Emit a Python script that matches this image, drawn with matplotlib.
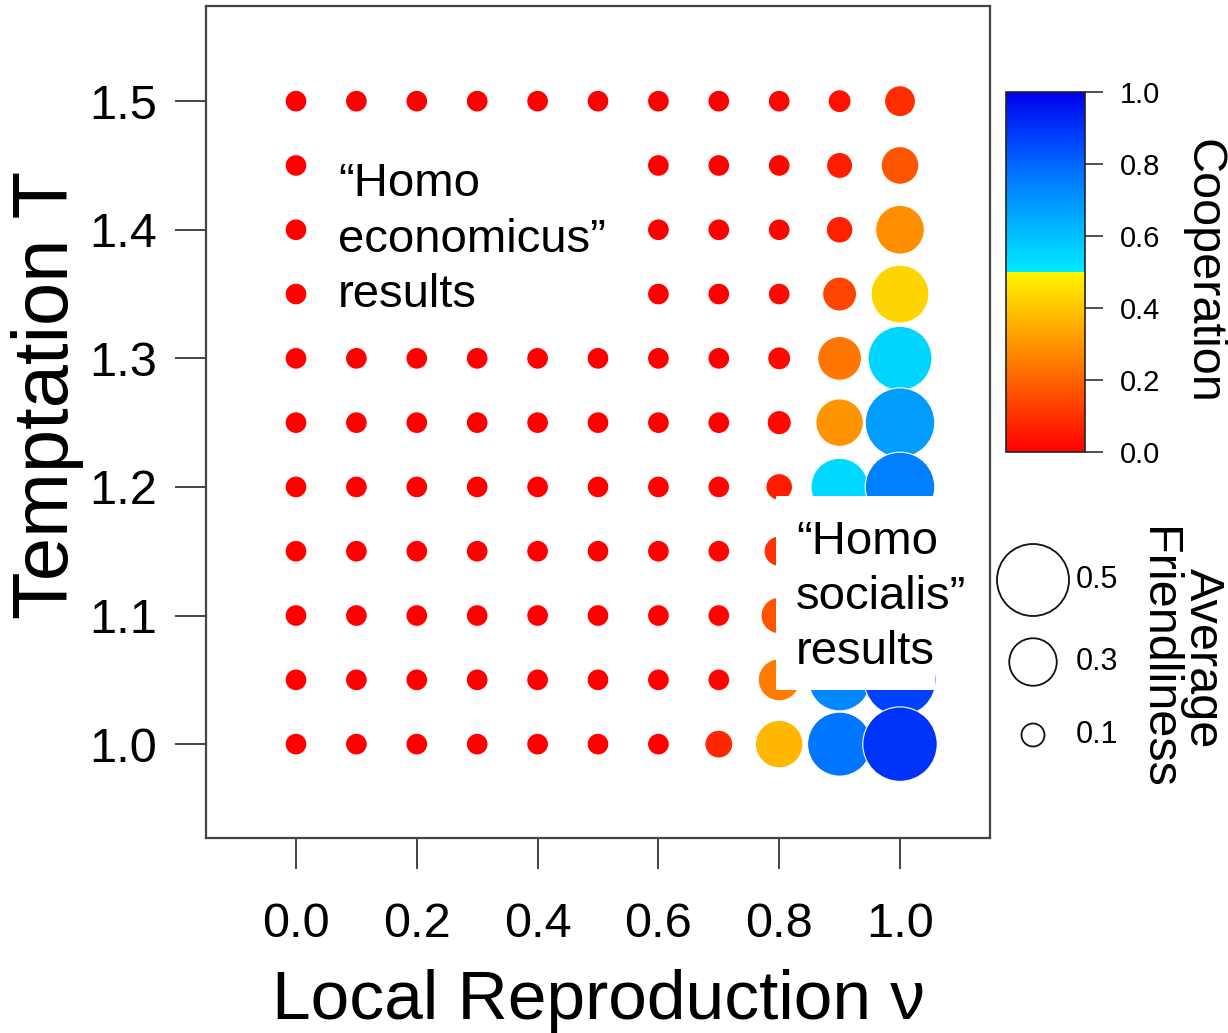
import numpy as np
import matplotlib
matplotlib.use("Agg")
import matplotlib.pyplot as plt
from matplotlib.colors import LinearSegmentedColormap, Normalize
from matplotlib.cm import ScalarMappable
from matplotlib.patches import Rectangle

plt.rcParams['font.family'] = ['Liberation Sans', 'DejaVu Sans']

# ---------------- data ----------------
nu_values = [0.0, 0.1, 0.2, 0.3, 0.4, 0.5, 0.6, 0.7, 0.8, 0.9, 1.0]
T_values = [1.00, 1.05, 1.10, 1.15, 1.20, 1.25, 1.30, 1.35, 1.40, 1.45, 1.50]
N = np.nan

# cooperation level, one row per T (ascending), one column per nu
cooperation = [
    [0, 0, 0, 0, 0, 0, 0, 0.08, 0.37, 0.77, 0.90],   # T=1.00
    [0, 0, 0, 0, 0, 0, 0, 0.01, 0.25, 0.73, 0.87],   # T=1.05
    [0, 0, 0, 0, 0, 0, 0, 0.01, 0.17, 0.70, 0.85],   # T=1.10
    [0, 0, 0, 0, 0, 0, 0, 0.01, 0.10, 0.65, 0.80],   # T=1.15
    [0, 0, 0, 0, 0, 0, 0, 0.01, 0.06, 0.54, 0.75],   # T=1.20
    [0, 0, 0, 0, 0, 0, 0, 0.00, 0.02, 0.30, 0.68],   # T=1.25
    [0, 0, 0, 0, 0, 0, 0, 0.00, 0.02, 0.24, 0.55],   # T=1.30
    [0, N, N, N, N, N, 0, 0.00, 0.02, 0.14, 0.43],   # T=1.35
    [0, N, N, N, N, N, 0, 0.00, 0.01, 0.07, 0.29],   # T=1.40
    [0, N, N, N, N, N, 0, 0.00, 0.01, 0.06, 0.17],   # T=1.45
    [0, 0, 0, 0, 0, 0, 0, 0.00, 0.01, 0.04, 0.09],   # T=1.50
]

# average friendliness, same layout
friendliness = [
    [0.09, 0.09, 0.09, 0.09, 0.09, 0.09, 0.09, 0.14, 0.30, 0.435, 0.52],
    [0.09, 0.09, 0.09, 0.09, 0.09, 0.09, 0.09, 0.09, 0.255, 0.42, 0.50],
    [0.09, 0.09, 0.09, 0.09, 0.09, 0.09, 0.09, 0.09, 0.21, 0.41, 0.49],
    [0.09, 0.09, 0.09, 0.09, 0.09, 0.09, 0.09, 0.09, 0.16, 0.40, 0.49],
    [0.09, 0.09, 0.09, 0.09, 0.09, 0.09, 0.09, 0.09, 0.13, 0.38, 0.48],
    [0.09, 0.09, 0.09, 0.09, 0.09, 0.09, 0.09, 0.09, 0.11, 0.30, 0.48],
    [0.09, 0.09, 0.09, 0.09, 0.09, 0.09, 0.09, 0.09, 0.10, 0.27, 0.435],
    [0.09, N, N, N, N, N, 0.09, 0.09, 0.09, 0.19, 0.385],
    [0.09, N, N, N, N, N, 0.09, 0.09, 0.09, 0.13, 0.31],
    [0.09, N, N, N, N, N, 0.09, 0.09, 0.09, 0.125, 0.22],
    [0.09, 0.09, 0.09, 0.09, 0.09, 0.09, 0.09, 0.09, 0.09, 0.10, 0.165],
]

x_ticks = [0.0, 0.2, 0.4, 0.6, 0.8, 1.0]
y_ticks = [1.0, 1.1, 1.2, 1.3, 1.4, 1.5]
cbar_ticks = [0.0, 0.2, 0.4, 0.6, 0.8, 1.0]
legend_friendliness = [0.5, 0.3, 0.1]

# ---------------- styling helpers ----------------
W, H = 1228, 1033
DPI = 100


def fx(px):
    return px / W


def fy(py):
    return 1 - py / H


def marker_area(f):
    d_px = 10.75 + 122.5 * np.asarray(f, dtype=float)
    return (d_px * 72.0 / DPI) ** 2


cdict = {
    'red':   [(0.0, 1.0, 1.0), (0.5, 1.0, 0.0), (1.0, 0.0, 0.0)],
    'green': [(0.0, 0.0, 0.0), (0.5, 0.97, 0.92), (0.75, 0.5, 0.5), (1.0, 0.0, 0.0)],
    'blue':  [(0.0, 0.0, 0.0), (0.5, 0.0, 1.0), (0.85, 1.0, 1.0), (1.0, 0.92, 0.92)],
}
cmap = LinearSegmentedColormap('coop', cdict, N=512)
norm = Normalize(0, 1)

fig = plt.figure(figsize=(W / DPI, H / DPI), dpi=DPI)
ax = fig.add_axes([fx(206), fy(838), fx(990) - fx(206), fy(6) - fy(838)])

# data-space limits from the reference layout
ax.set_xlim(-0.149, 1.149)
ax.set_ylim(0.927, 1.574)

# build point list: nu ascending, T descending (lower rows drawn on top)
xs, ys, cs, fs = [], [], [], []
for j, nu in enumerate(nu_values):
    for i in reversed(range(len(T_values))):
        c = cooperation[i][j]
        f = friendliness[i][j]
        if np.isnan(c) or np.isnan(f):
            continue
        xs.append(nu)
        ys.append(T_values[i])
        cs.append(c)
        fs.append(f)

ax.scatter(xs, ys, s=marker_area(fs), c=cs, cmap=cmap, norm=norm,
           edgecolors='white', linewidths=0.8, zorder=3, clip_on=False)

# axes styling
for sp in ax.spines.values():
    sp.set_color('#444444')
    sp.set_linewidth(1.6)
ax.set_xticks(x_ticks)
ax.set_xticklabels([f"{v:.1f}" for v in x_ticks])
ax.set_yticks(y_ticks)
ax.set_yticklabels([f"{v:.1f}" for v in y_ticks])
ax.tick_params(axis='both', direction='out', length=22, width=1.4,
               color='#444444', labelsize=35)
ax.tick_params(axis='x', pad=24)
ax.tick_params(axis='y', pad=13)

fig.text(fx(598), fy(1019), "Local Reproduction \u03bd", fontsize=50,
         ha='center', va='baseline')
fig.text(fx(48), fy(395), "Temptation T", fontsize=56, rotation=90,
         ha='center', va='center')

# annotations
fig.text(fx(338), fy(162), "\u201cHomo\neconomicus\u201d\nresults",
         fontsize=34, ha='left', va='top', linespacing=1.34, zorder=5)

ax.add_patch(Rectangle((fx(776), fy(690)), fx(935) - fx(776), fy(496) - fy(690),
                       transform=fig.transFigure, facecolor='white',
                       edgecolor='none', zorder=4, clip_on=False))
fig.text(fx(796), fy(520), "\u201cHomo\nsocialis\u201d\nresults",
         fontsize=34, ha='left', va='top', linespacing=1.32, zorder=6)

# colorbar
cax = fig.add_axes([fx(1006), fy(452), fx(1085) - fx(1006), fy(92) - fy(452)])
cb = fig.colorbar(ScalarMappable(norm=norm, cmap=cmap), cax=cax)
cb.set_ticks(cbar_ticks)
cb.set_ticklabels([f"{v:.1f}" for v in cbar_ticks])
cb.outline.set_linewidth(1.2)
cb.outline.set_edgecolor('#222222')
cax.tick_params(direction='out', length=13, width=1.2, color='#333333',
                labelsize=21, pad=12)
fig.text(fx(1203), fy(271), "Cooperation", fontsize=35, rotation=270,
         ha='center', va='center')

# size legend
lax = fig.add_axes([0, 0, 1, 1], facecolor='none')
lax.set_xlim(0, W)
lax.set_ylim(H, 0)
lax.axis('off')
leg_y = [580, 662, 735]
lax.scatter([1033] * 3, leg_y, s=marker_area(legend_friendliness),
            facecolors='none', edgecolors='#111111', linewidths=1.3)
for f, yy in zip(legend_friendliness, leg_y):
    lax.text(1076, yy, f"{f:.1f}", fontsize=22, ha='left', va='center')
fig.text(fx(1180), fy(658), "Average\nFriendliness", fontsize=35, rotation=270,
         ha='center', va='center', multialignment='center', linespacing=1.0)

fig.savefig("out.png", dpi=DPI)
